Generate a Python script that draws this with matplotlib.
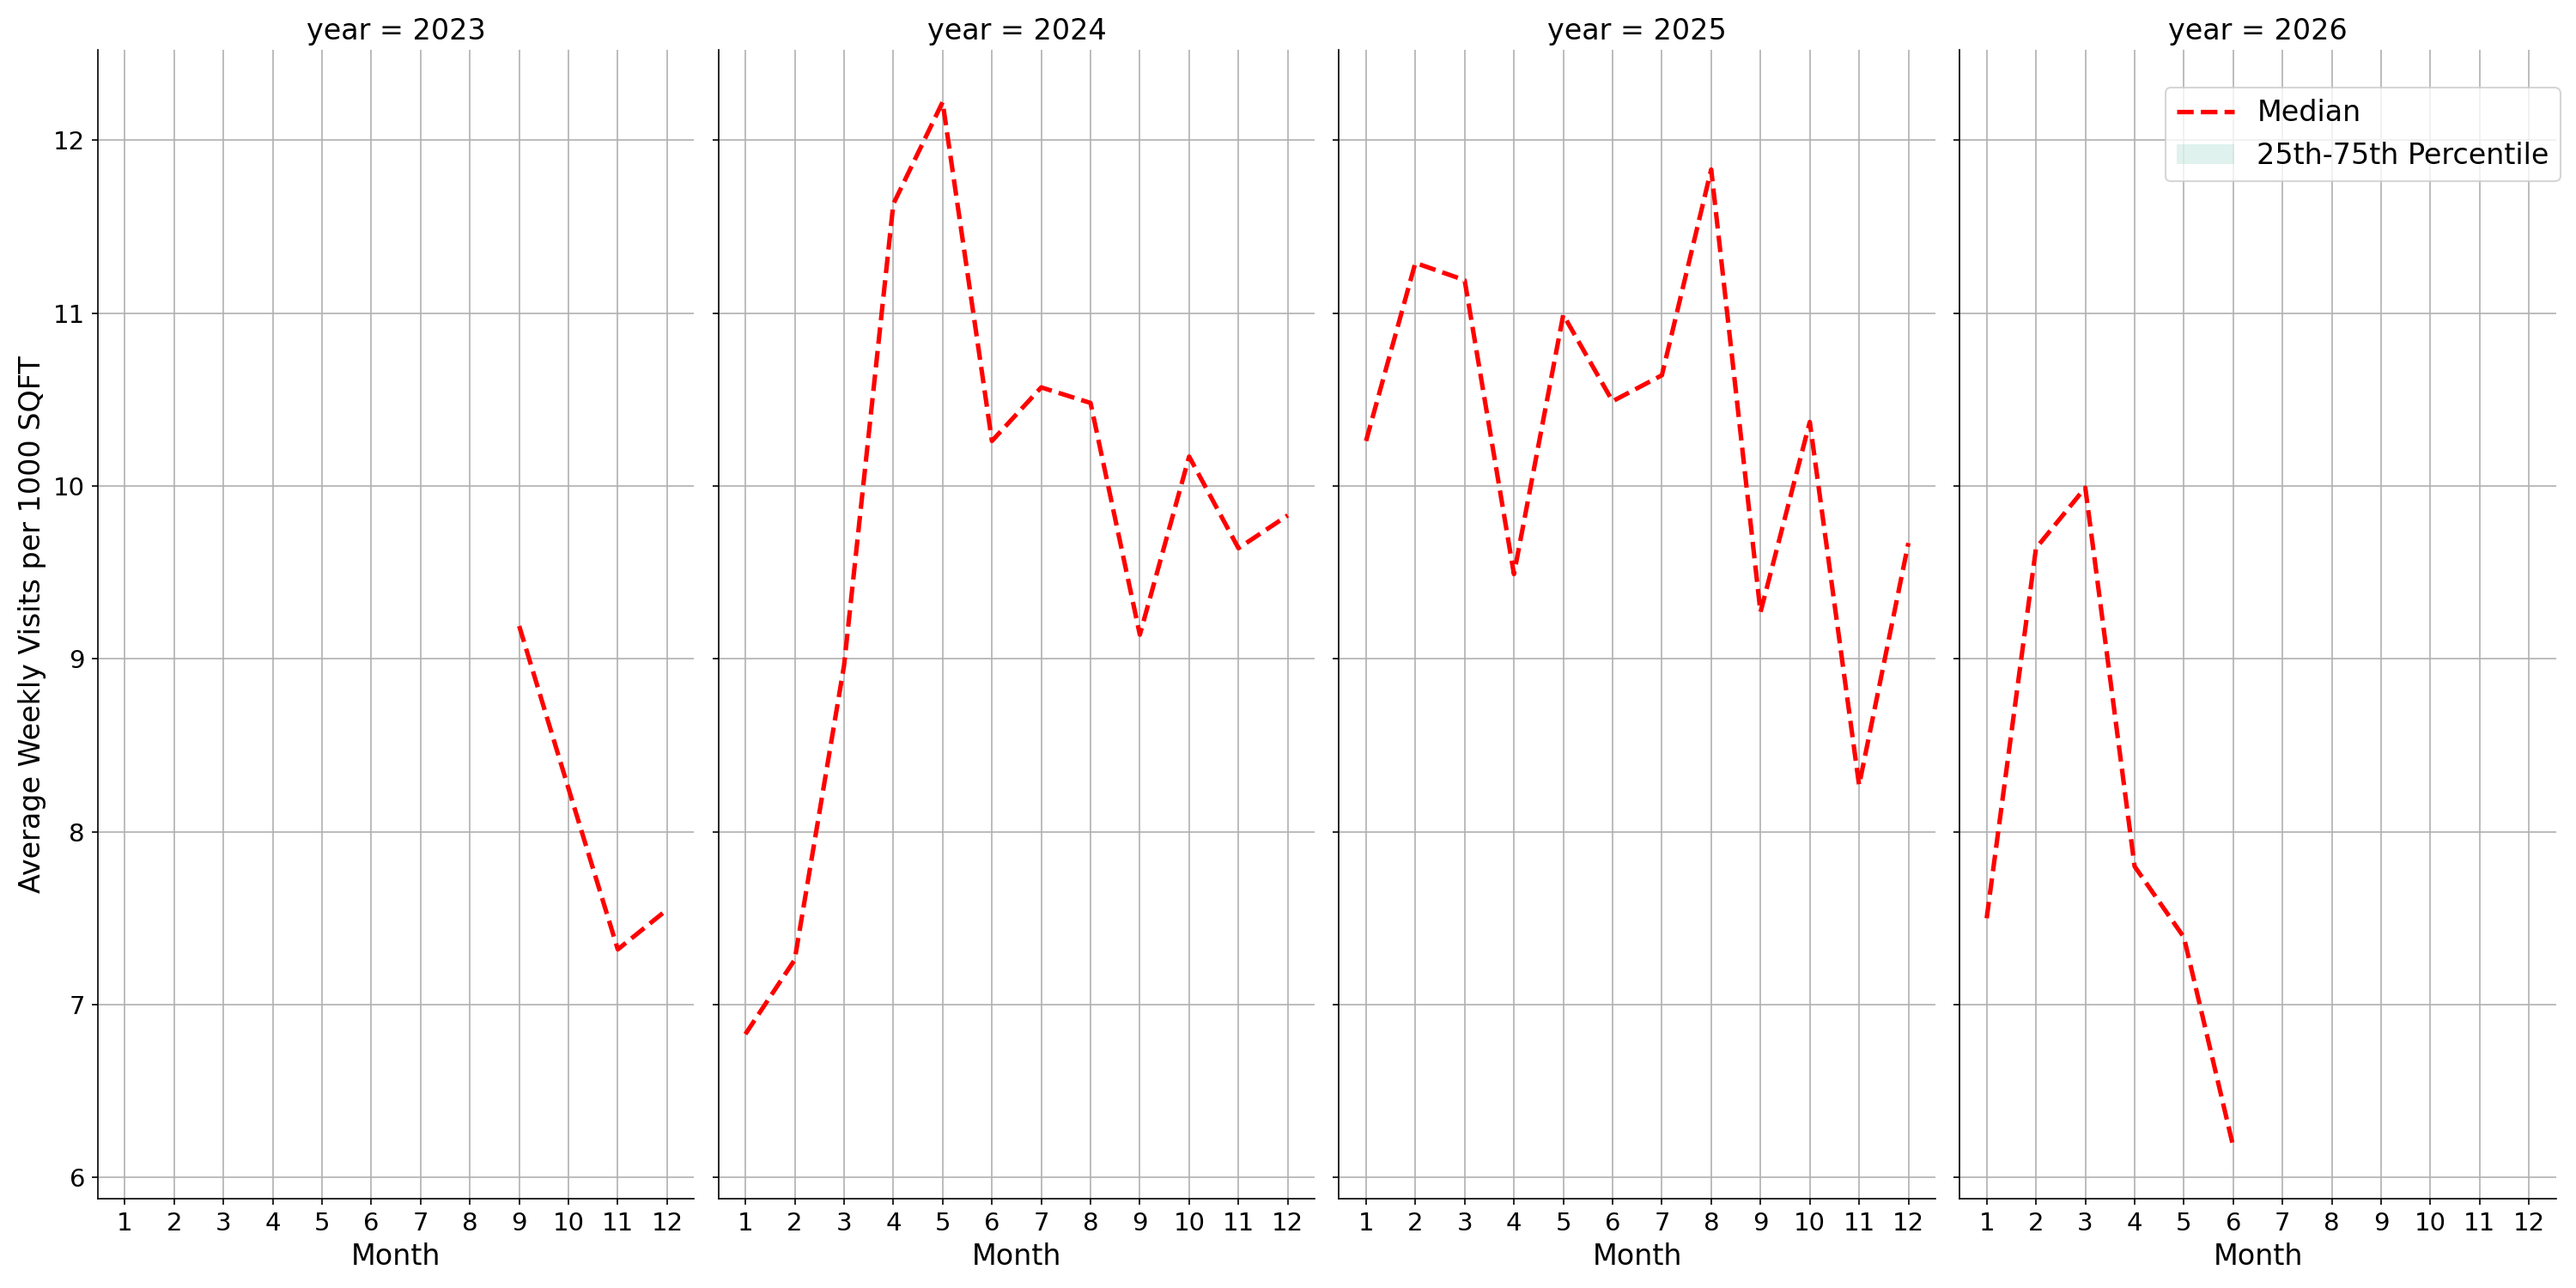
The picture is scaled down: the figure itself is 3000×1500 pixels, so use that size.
import numpy as np
import matplotlib
matplotlib.use("Agg")
import matplotlib.pyplot as plt
from matplotlib.lines import Line2D
from matplotlib.patches import Patch

plt.rcParams['font.family'] = ['DejaVu Sans']

years = [2023, 2024, 2025, 2026]
months = list(range(1, 13))

median_2023 = [np.nan] * 8 + [9.19, 8.25, 7.32, 7.55]
median_2024 = [6.83, 7.26, 8.96, 11.63, 12.22, 10.26, 10.57, 10.48, 9.14, 10.17, 9.64, 9.83]
median_2025 = [10.26, 11.29, 11.19, 9.49, 10.99, 10.49, 10.64, 11.83, 9.27, 10.37, 8.27, 9.67]
median_2026 = [7.50, 9.64, 9.99, 7.80, 7.39, 6.18] + [np.nan] * 6
medians = [median_2023, median_2024, median_2025, median_2026]

fig, axes = plt.subplots(1, 4, figsize=(20, 10), dpi=150, sharex=True, sharey=True)
fig.subplots_adjust(left=0.0379, right=0.9923, bottom=0.0693, top=0.9613, wspace=0.0403)

for ax, yr, med in zip(axes, years, medians):
    ax.plot(months, med, color='red', linestyle='--', linewidth=2.5)
    ax.set_title(f"year = {yr}", fontsize=16)
    ax.set_xlabel("Month", fontsize=16)
    ax.grid(True)
    ax.set_axisbelow(True)
    ax.spines['top'].set_visible(False)
    ax.spines['right'].set_visible(False)
    ax.set_xticks(months)
    ax.tick_params(labelsize=14)

axes[0].set_ylabel("Average Weekly Visits per 1000 SQFT", fontsize=16)

handles = [Line2D([], [], color='red', linestyle='--', linewidth=2.5),
           Patch(facecolor='#66c2a5', alpha=0.2)]
fig.legend(handles, ["Median", "25th-75th Percentile"], loc='upper right',
           bbox_to_anchor=(0.994, 0.932), borderaxespad=0, fontsize=16)

fig.savefig("out.png", dpi=150)
